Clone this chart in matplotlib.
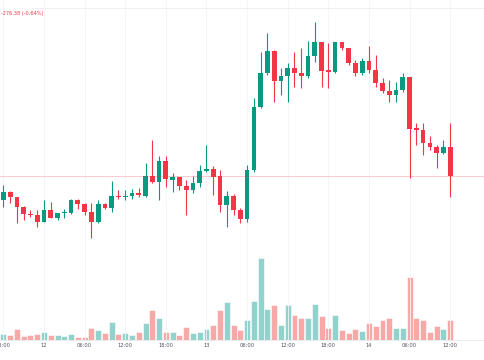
import matplotlib.pyplot as plt

# hourly candles, 11th 18:00 -> 14th 12:00
opens = [42799, 42833, 42813, 42773, 42744, 42741, 42713, 42760, 42728, 42748,
         42747, 42800, 42783, 42753, 42711, 42784, 42769, 42817, 42813, 42816,
         42827, 42817, 42897, 42873, 42956, 42880, 42891, 42856, 42840, 42867,
         42915, 42924, 42896, 42782, 42818, 42760, 42724, 42920, 43173, 43307,
         43396, 43276, 43296, 43329, 43310, 43298, 43377, 43431, 43320, 43311,
         43431, 43407, 43347, 43307, 43357, 43319, 43269, 43235, 43221, 43239,
         43291, 43087, 43080, 43029, 43011, 42987, 43011]
highs = [42860, 42836, 42814, 42776, 42760, 42760, 42800, 42793, 42749, 42764,
         42803, 42804, 42787, 42788, 42800, 42789, 42877, 42840, 42840, 42843,
         42847, 42947, 43040, 42976, 42976, 42909, 42893, 42880, 42896, 42940,
         43020, 42936, 42920, 42837, 42826, 42770, 42940, 43207, 43393, 43467,
         43400, 43327, 43349, 43392, 43407, 43436, 43513, 43433, 43428, 43433,
         43433, 43408, 43360, 43367, 43416, 43380, 43288, 43280, 43273, 43309,
         43293, 43107, 43107, 43056, 43020, 43040, 43107]
lows = [42773, 42789, 42707, 42720, 42733, 42693, 42712, 42727, 42720, 42728,
        42745, 42764, 42740, 42649, 42707, 42763, 42753, 42803, 42800, 42803,
        42813, 42813, 42869, 42800, 42853, 42833, 42840, 42740, 42827, 42853,
        42913, 42820, 42753, 42693, 42740, 42710, 42712, 42913, 43167, 43300,
        43193, 43220, 43193, 43254, 43247, 43287, 43353, 43253, 43247, 43307,
        43400, 43340, 43296, 43300, 43307, 43253, 43227, 43193, 43193, 43233,
        42888, 43020, 42980, 43000, 42927, 42984, 42813]
closes = [42833, 42813, 42773, 42744, 42741, 42713, 42760, 42729, 42747, 42751,
          42800, 42783, 42751, 42712, 42784, 42769, 42817, 42813, 42817, 42827,
          42819, 42897, 42873, 42956, 42883, 42891, 42856, 42840, 42869, 42916,
          42924, 42893, 42780, 42818, 42760, 42725, 42920, 43173, 43307, 43396,
          43276, 43296, 43329, 43310, 43298, 43377, 43431, 43317, 43311, 43431,
          43407, 43347, 43307, 43357, 43319, 43269, 43235, 43221, 43239, 43291,
          43084, 43080, 43029, 43011, 42987, 43011, 42896]
volumes = [236, 204, 437, 163, 198, 241, 322, 195, 203, 158,
           244, 131, 128, 483, 402, 276, 718, 238, 282, 197,
           318, 684, 1196, 874, 322, 317, 203, 524, 281, 318,
           442, 596, 1203, 1517, 602, 398, 806, 1562, 3274, 1238,
           1396, 603, 1402, 996, 884, 878, 1437, 962, 478, 1004,
           402, 283, 437, 362, 684, 557, 803, 876, 482, 478,
           2516, 884, 797, 318, 562, 437, 803]

tick_pos = [0, 6, 12, 18, 24, 30, 36, 42, 48, 54, 60, 66]
tick_labels = ['18:00', '12', '06:00', '12:00', '18:00', '13',
               '06:00', '12:00', '18:00', '14', '06:00', '12:00']

up_color = '#089981'
down_color = '#f23645'
up_vol = '#92d2cc'
down_vol = '#f7a9a7'

n = len(opens)
idx = list(range(n))
is_up = [c >= o for o, c in zip(opens, closes)]
colors = [up_color if u else down_color for u in is_up]
vol_colors = [up_vol if u else down_vol for u in is_up]
bottoms = [min(o, c) for o, c in zip(opens, closes)]
heights = [max(abs(c - o), 4) for o, c in zip(opens, closes)]

fig = plt.figure(figsize=(4.85, 3.6), dpi=100)
rect = [0, 20 / 360, 1, 340 / 360]
xlim = (-0.5, -0.5 + 485 / 6.77)

# volume overlay
axv = fig.add_axes(rect)
axv.bar(idx, volumes, width=0.88, color=vol_colors, edgecolor='white', linewidth=0.4)
axv.set_xlim(*xlim)
axv.set_ylim(0, 13600)
axv.set_yticks([])
axv.set_xticks(tick_pos)
axv.set_xticklabels(tick_labels, fontsize=3.7, color='#50535e')
axv.tick_params(axis='x', length=0, pad=2.5)
axv.grid(axis='x', color='#f3f4f7', linewidth=0.6)
for s in ['top', 'left', 'right']:
    axv.spines[s].set_visible(False)
axv.spines['bottom'].set_color('#e8e9ee')
axv.spines['bottom'].set_linewidth(0.6)

# candles
ax = fig.add_axes(rect, sharex=axv)
ax.patch.set_alpha(0)
ax.vlines(idx, lows, highs, colors=colors, linewidth=0.8)
ax.bar(idx, heights, bottom=bottoms, width=0.7, color=colors, linewidth=0)
ax.axhline(closes[-1], color=down_color, alpha=0.3, linewidth=0.6)
ax.axhline(43568, xmin=0.065, color='#eceef2', linewidth=0.6)
ax.set_ylim(42240, 43600)
ax.set_xlim(*xlim)
ax.axis('off')

fig.text(0.002, 0.958, '-276.38 (-0.64%)', fontsize=3.6, color='#f23645')

fig.savefig('out.png', dpi=100, facecolor='white')
